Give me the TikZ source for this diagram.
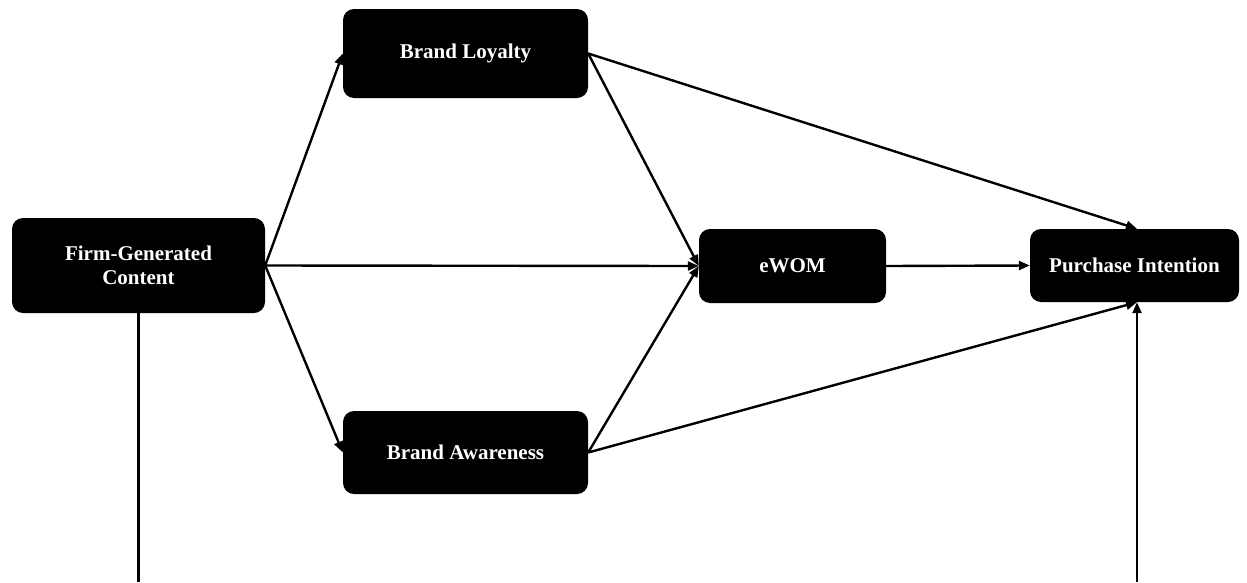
\documentclass[tikz,border=0pt]{standalone}
\usepackage{fontspec}
\setmainfont{Liberation Serif}
\usetikzlibrary{arrows.meta}
\begin{document}
\begin{tikzpicture}[x=1pt,y=-1pt,
  box/.style={fill=black, rounded corners=11pt, inner sep=0pt, align=center,
    text=white, font=\fontsize{21}{24}\selectfont\bfseries},
  link/.style={line width=2.4pt, -{Triangle[length=11pt,width=9pt]}},
  plain/.style={line width=2.4pt}]
\useasboundingbox (0,0) rectangle (1247,582);

% constructs of the model
\node[box, minimum width=253pt, minimum height=95pt] (fgc) at (138.5,265.5) {Firm-Generated\\Content};
\node[box, minimum width=245pt, minimum height=89pt] (bl) at (465.5,53.5) {Brand Loyalty};
\node[box, minimum width=245pt, minimum height=83pt] (ba) at (465.5,452.5) {Brand Awareness};
\node[box, minimum width=187pt, minimum height=74pt] (ewom) at (792.5,266) {eWOM};
\node[box, minimum width=209pt, minimum height=73pt] (pi) at (1134.5,265.5) {Purchase Intention};

% ends of the lower path, at the edge of the figure
\coordinate (fgcdown) at (138.5,582);
\coordinate (piup) at (1137,582);

% paths
\draw[link] (fgc.east) -- (bl.west);
\draw[link] (fgc.east) -- (ewom.west);
\draw[link] (fgc.east) -- (ba.west);
\draw[link] (bl.east) -- (ewom.west);
\draw[link] (ba.east) -- (ewom.west);
\draw[link] (bl.east) -- ([xshift=2.5pt]pi.north);
\draw[link] (ba.east) -- ([xshift=2.5pt]pi.south);
\draw[link] (ewom.east) -- (pi.west);
\draw[plain] (fgc.south) -- (fgcdown);
\draw[link] (piup) -- ([xshift=2.5pt]pi.south);
\end{tikzpicture}
\end{document}
